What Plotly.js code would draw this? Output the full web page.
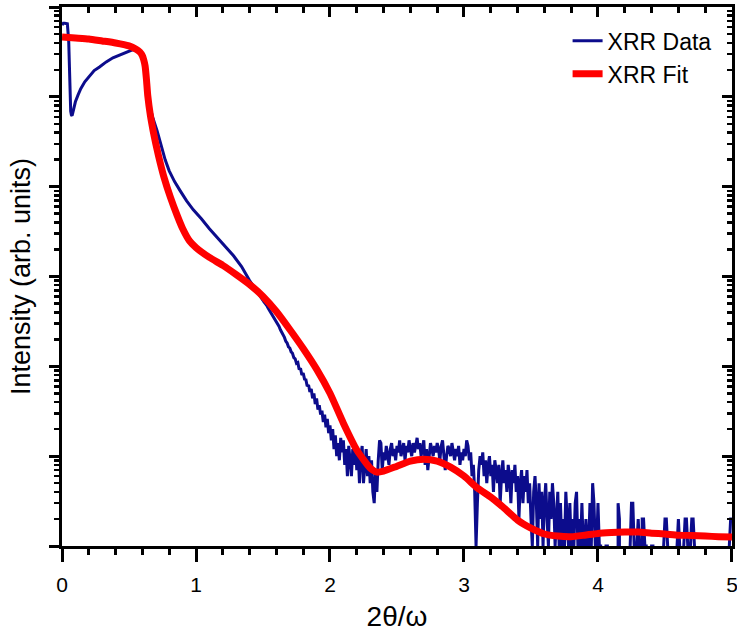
<!DOCTYPE html>
<html>
<head>
<meta charset="utf-8">
<script src="https://cdn.plot.ly/plotly-3.0.1.min.js"></script>
<style>html,body{margin:0;padding:0;background:#fff}</style>
</head>
<body>
<div id="chart" style="width:737px;height:634px"></div>
<script>
// ---- XRR measured data: smooth low-angle part (2θ/ω, counts) ----
var dataHeadX = [0, 0.01, 0.02, 0.03, 0.04, 0.05, 0.055, 0.06, 0.065, 0.07, 0.075, 0.08, 0.09, 0.10,
  0.12, 0.14, 0.17, 0.20, 0.24, 0.28, 0.33, 0.38, 0.43, 0.48, 0.53, 0.57, 0.60, 0.62, 0.64, 0.66,
  0.68, 0.71, 0.74, 0.77, 0.80, 0.84, 0.88, 0.93, 0.98, 1.04, 1.10, 1.16, 1.22, 1.28, 1.34, 1.40,
  1.45, 1.50];
var dataHeadY = [630000, 660000, 660000, 660000, 650000, 420000, 196000, 102000, 69000, 63000, 61600,
  66000, 77000, 88000, 105000, 123000, 147000, 166000, 196000, 215000, 245000, 272000, 292000,
  316000, 335000, 327000, 278000, 204000, 110000, 74000, 57000, 41800, 28600, 19900, 15000, 11400,
  9100, 6950, 5530, 4400, 3400, 2700, 2150, 1700, 1290, 900, 700, 540];

// ---- XRR measured data: noisy tail, start angle and step, counts (0 = no counts) ----
var dataTailStart = 1.50;
var dataTailStep = 0.01;
var dataTailY = [
  540,520,490,470,440,415,400,372,355,330,
  312,290,278,255,240,222,210,190,182,165,
  160,145,140,125,121,108,110,92,95,80,
  84,72,71,60,62,52,56,44,50,38,
  44,33,37,29,32,24,29,21,26,18,
  22,15,20,12,17,10,14,9,16,11,
  15,8,12,6,13,9,6,12,8,14,
  7,11,5,10,13,5,9,12,6,10,
  5,9,4,3,7,4,9,15,14,7,
  11,9,13,10,8,12,14,10,12,9,
  13,11,15,10,12,14,9,13,11,15,
  12,10,14,11,13,16,12,14,10,13,
  15,8,12,7,11,14,12,10,13,11,
  14,12,9,13,15,11,7,10,13,12,
  10,14,11,9,12,10,13,8,11,9,
  12,10,15,13,9,11,6,8,4,1,
  3,7,10,8,11,6,9,5,8,10,
  6,8,4,9,7,5,8,3,6,9,
  5,7,4,8,6,3,7,5,8,4,
  6,2,5,7,3,6,4,7,3,5,
  2,1,4,6,3,1,5,2,4,1,
  3,5,2,1,4,2,5,3,1,2,
  4,1,3,1,2,1,4,2,1,3,
  1,2,1,3,4,1,2,1,3,1,
  1,2,1,1,3,1,5,3,1,1,
  3,1,1,0,1,0,1,1,0,0,
  1,0,0,0,0,3,2,0,0,1,
  0,1,0,0,1,3,3,1,0,1,
  2,1,0,2,2,1,1,0,1,0,
  1,1,0,0,1,0,1,0,0,1,
  2,2,1,0,1,0,0,1,0,1,
  2,1,0,0,1,2,2,1,0,1,
  2,2,1,0,0,1,0,0,1,0,
  0,0,1,0,0,1,0,0,0,1,
  0,0,1,0,0,0,1,0,1,2,
  2];

// ---- XRR fit ----
var fitX = [0, 0.1, 0.2, 0.3, 0.4, 0.5, 0.55, 0.58, 0.60, 0.61, 0.62, 0.63, 0.64, 0.66, 0.68, 0.70,
  0.72, 0.76, 0.81, 0.86, 0.90, 0.95, 1.00, 1.10, 1.20, 1.30, 1.40, 1.50, 1.60, 1.70, 1.80, 1.90,
  2.00, 2.10, 2.20, 2.30, 2.35, 2.40, 2.50, 2.60, 2.70, 2.80, 2.90, 3.00, 3.10, 3.20, 3.30, 3.40,
  3.50, 3.60, 3.70, 3.80, 3.90, 4.00, 4.10, 4.20, 4.30, 4.40, 4.50, 4.60, 4.70, 4.80, 4.90, 5.00];
var fitY = [464000, 452000, 441000, 419000, 398000, 369000, 341000, 316000, 286000, 258000, 221000,
  158000, 103000, 61500, 41900, 30000, 22100, 12900, 7550, 4760, 3420, 2510, 2100, 1630, 1330,
  1050, 815, 600, 408, 257, 158, 93, 50.1, 23.3, 11.7, 7.36, 6.64, 6.81, 7.74, 8.80, 9.26, 8.80,
  7.55, 6.0, 4.41, 3.50, 2.64, 1.94, 1.58, 1.36, 1.29, 1.27, 1.32, 1.38, 1.41, 1.43, 1.43, 1.39,
  1.36, 1.32, 1.31, 1.29, 1.27, 1.26];

// ---- axis ticks ----
var xTickVals = [0, 1, 2, 3, 4, 5];
var xTickText = ['0', '1', '2', '3', '4', '5'];
var xMinorVals = [0.2,0.4,0.6,0.8,1.2,1.4,1.6,1.8,2.2,2.4,2.6,2.8,3.2,3.4,3.6,3.8,4.2,4.4,4.6,4.8];
var yDecades = [1, 10, 100, 1000, 10000, 100000, 1000000];
var yMinorMult = [2, 3, 4, 5, 6, 7, 8, 9];

var yMinorVals = [];
for (var i = 0; i < yDecades.length - 1; i++) {
  for (var j = 0; j < yMinorMult.length; j++) yMinorVals.push(yMinorMult[j] * yDecades[i]);
}

var BLUE = '#0c0c8c', RED = '#ff0000';
var FONT = 'Liberation Sans, Arial, sans-serif';

var traces = [
  {x: dataHeadX, y: dataHeadY, type: 'scatter', mode: 'lines', name: 'XRR Data',
   legendgroup: 'data', line: {color: BLUE, width: 3}},
  {x0: dataTailStart, dx: dataTailStep, y: dataTailY, type: 'scatter', mode: 'lines', name: 'XRR Data',
   legendgroup: 'data', showlegend: false, connectgaps: false, line: {color: BLUE, width: 3}},
  {x: fitX, y: fitY, type: 'scatter', mode: 'lines', name: 'XRR Fit',
   line: {color: RED, width: 7, shape: 'spline', smoothing: 0.5}},
  // empty trace so that the mirrored frame axes (top / right) get drawn
  {x: [], y: [], type: 'scatter', mode: 'lines', xaxis: 'x2', yaxis: 'y2', showlegend: false, hoverinfo: 'skip'}
];

var axCommon = {showgrid: false, zeroline: false, showline: true, linecolor: '#000', linewidth: 3,
  tickcolor: '#000', tickwidth: 3};

var layout = {
  width: 737, height: 634,
  margin: {l: 62, r: 5, t: 7, b: 88},
  paper_bgcolor: '#fff', plot_bgcolor: '#fff',
  font: {family: FONT, color: '#000'},
  showlegend: true,
  legend: {x: 0.977, xanchor: 'right', y: 0.977, yanchor: 'top', bgcolor: 'rgba(0,0,0,0)',
    font: {family: FONT, size: 23, color: '#000'}, tracegroupgap: 0},
  xaxis: Object.assign({}, axCommon, {
    range: [0, 5.0001], tickmode: 'array', tickvals: xTickVals, ticktext: xTickText,
    ticks: 'outside', ticklen: 13, ticklabelstandoff: 5, ticklabeloverflow: 'allow',
    minor: {tickmode: 'array', tickvals: xMinorVals, ticks: 'outside', ticklen: 6, tickwidth: 3, tickcolor: '#000'},
    tickfont: {family: FONT, size: 21, color: '#000'},
    title: {text: '2θ/ω', font: {family: FONT, size: 28, color: '#000'}, standoff: 12}
  }),
  yaxis: Object.assign({}, axCommon, {
    type: 'log', range: [0, 6], tickmode: 'array', tickvals: yDecades, showticklabels: false,
    ticks: 'outside', ticklen: 10,
    minor: {tickmode: 'array', tickvals: yMinorVals, ticks: 'outside', ticklen: 5, tickwidth: 2.5, tickcolor: '#000'},
    title: {text: 'Intensity (arb. units)', font: {family: FONT, size: 27, color: '#000'}, standoff: 11}
  }),
  xaxis2: Object.assign({}, axCommon, {
    overlaying: 'x', side: 'top', anchor: 'y2', range: [0, 5.0001], tickmode: 'array', tickvals: xTickVals,
    showticklabels: false, ticks: 'inside', ticklen: 10,
    minor: {tickmode: 'array', tickvals: xMinorVals, ticks: 'inside', ticklen: 6, tickwidth: 3, tickcolor: '#000'}
  }),
  yaxis2: Object.assign({}, axCommon, {
    overlaying: 'y', side: 'right', anchor: 'x2', type: 'log', range: [0, 6], tickmode: 'array',
    tickvals: yDecades, showticklabels: false, ticks: 'inside', ticklen: 10,
    minor: {tickmode: 'array', tickvals: yMinorVals, ticks: 'inside', ticklen: 5, tickwidth: 2.5, tickcolor: '#000'}
  })
};

Plotly.newPlot('chart', traces, layout, {displayModeBar: false, staticPlot: true});
</script>
</body>
</html>
